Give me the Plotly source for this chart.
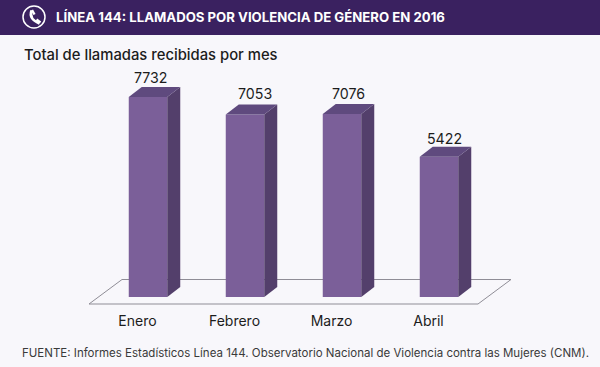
import plotly.graph_objects as go

meses = ["Enero", "Febrero", "Marzo", "Abril"]
llamadas = [7732, 7053, 7076, 5422]

titulo = "LÍNEA 144: LLAMADOS POR VIOLENCIA DE GÉNERO EN 2016"
subtitulo = "Total de llamadas recibidas por mes"
fuente = "FUENTE: Informes Estadísticos Línea 144. Observatorio Nacional de Violencia contra las Mujeres (CNM)."

W, H = 600, 367
FONT = "Inter, 'Open Sans', sans-serif"
BG = "#f8f7fb"
HEADER = "#3a2160"
FRONT, SIDE, TOP = "#7b5f99", "#533f6b", "#5f4a7e"

PX_X = 97.0
PX_Y = 200.0 / 7732
BOTTOM_MARGIN = 60
LEFT_CENTER = 148.0
ZERO_PX = 297.0
x_range = [-LEFT_CENTER / PX_X, (W - LEFT_CENTER) / PX_X]
plot_h = H - BOTTOM_MARGIN
y_range = [-(plot_h - ZERO_PX) / PX_Y, ZERO_PX / PX_Y]

BAR_W = 38.5 / PX_X
DX = 13 / PX_X
DY = 10 / PX_Y
idx = list(range(len(meses)))

fig = go.Figure()
fig.add_trace(go.Bar(x=idx, y=llamadas, width=BAR_W, marker=dict(color=FRONT, line_width=0),
                     hoverinfo="skip", showlegend=False))
for i, v in zip(idx, llamadas):
    l, r = i - BAR_W / 2, i + BAR_W / 2
    fig.add_trace(go.Scatter(x=[r, r + DX, r + DX, r, r], y=[0, DY, v + DY, v, 0], mode="lines",
                             fill="toself", fillcolor=SIDE, line=dict(width=0, color=SIDE),
                             hoverinfo="skip", showlegend=False))
    fig.add_trace(go.Scatter(x=[l, l + DX, r + DX, r, l], y=[v, v + DY, v + DY, v, v], mode="lines",
                             fill="toself", fillcolor=TOP, line=dict(width=0, color=TOP),
                             hoverinfo="skip", showlegend=False))

def fx(px): return (px - LEFT_CENTER) / PX_X
def fy(px): return (ZERO_PX - px) / PX_Y
fig.add_shape(type="path", layer="below", xref="x", yref="y",
              path=f"M {fx(89)} {fy(304)} L {fx(122)} {fy(279.5)} L {fx(511)} {fy(279.5)} L {fx(478)} {fy(304)} Z",
              line=dict(color="#8f8d96", width=1), fillcolor="rgba(0,0,0,0)")

fig.add_shape(type="rect", xref="paper", yref="paper", x0=0, x1=1, y0=1, y1=1 - 35 / plot_h,
              fillcolor=HEADER, line_width=0, layer="below")
# phone icon: ring and handset
fig.add_shape(type="circle", xref="paper", yref="paper", x0=23 / W, x1=45 / W,
              y0=1 - 28 / plot_h, y1=1 - 6 / plot_h, line=dict(color="white", width=1.5))
fig.add_shape(type="path", xref="x", yref="y",
              path=f"M {fx(31.5)} {fy(10.5)} Q {fx(28.5)} {fy(19)} {fx(39.5)} {fy(23.5)}",
              line=dict(color="white", width=2.6), fillcolor="rgba(0,0,0,0)")
fig.add_shape(type="path", xref="x", yref="y",
              path=f"M {fx(32)} {fy(10)} L {fx(34.5)} {fy(14.5)}",
              line=dict(color="white", width=2.4))
fig.add_shape(type="path", xref="x", yref="y",
              path=f"M {fx(36.5)} {fy(19.5)} L {fx(40.5)} {fy(22.5)}",
              line=dict(color="white", width=2.4))

def note(text, px, py, size, color, anchor="left", weight=400):
    fig.add_annotation(text=text, xref="paper", yref="paper", x=px / W, y=1 - py / plot_h,
                       xanchor=anchor, yanchor="middle", showarrow=False,
                       font=dict(family=FONT, size=size, color=color, weight=weight))

note(titulo, 54, 17, 13.2, "white", weight=700)
note(subtitulo, 21.5, 55, 14.8, "#1c1c1c", weight=500)
note(fuente, 20, 353, 11.5, "#3a3a3a")

label_dx = [3, 10, 6, 5.5]
label_dy = [10, 11, 10, 8]
for i, v, sx, sy in zip(idx, llamadas, label_dx, label_dy):
    fig.add_annotation(text=str(v), x=i, y=v + DY, xref="x", yref="y", xshift=sx, yshift=sy,
                       yanchor="middle", showarrow=False,
                       font=dict(family=FONT, size=14.2, color="#1c1c1c"))

fig.update_xaxes(range=x_range, tickmode="array", tickvals=[i - 10.5 / PX_X for i in idx], ticktext=meses,
                 showgrid=False, zeroline=False, showline=False, ticks="", ticklabelstandoff=4,
                 tickfont=dict(family=FONT, size=14, color="#1c1c1c"))
fig.update_yaxes(range=y_range, visible=False, showgrid=False, zeroline=False)
fig.update_layout(width=W, height=H, margin=dict(l=0, r=0, t=0, b=BOTTOM_MARGIN, pad=0),
                  paper_bgcolor=BG, plot_bgcolor=BG, showlegend=False)
fig.write_html("out.html", config=dict(displayModeBar=False),
               post_script="document.body.style.margin='0';document.body.style.background='#f8f7fb';")
